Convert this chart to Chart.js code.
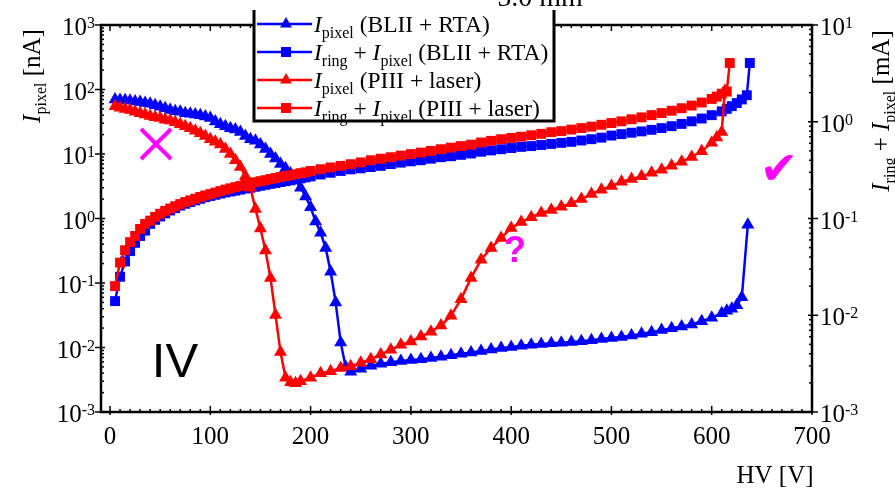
<!DOCTYPE html>
<html>
<head>
<meta charset="utf-8">
<script src="https://cdn.jsdelivr.net/npm/chart.js@4.4.0/dist/chart.umd.min.js"></script>
<style>
  body { margin: 0; background: #fff; }
  #wrap { width: 895px; height: 491px; position: relative; }
</style>
</head>
<body>
<div id="wrap"><canvas id="ivChart" width="895" height="491"></canvas></div>
<script>
// HV [V] and I_pixel [nA] for BLII + RTA
const hvPixBlii = [5, 10, 15, 20, 25, 30, 35, 40, 45, 50, 55, 60, 65, 70, 75, 80, 85, 90, 95, 100,
    105, 110, 115, 120, 125, 130, 135, 140, 145, 150, 155, 160, 165, 170, 175, 180, 185, 190, 195, 200,
    205, 210, 215, 220, 225, 230, 235, 240, 250, 260, 270, 280, 290, 300, 310, 320, 330, 340, 350, 360,
    370, 380, 390, 400, 410, 420, 430, 440, 450, 460, 470, 480, 490, 500, 510, 520, 530, 540, 550, 560,
    570, 580, 590, 600, 610, 615, 620, 625, 630, 636];
const iPixBlii = [70, 69, 68, 67, 65, 64, 62, 60, 57, 54, 51, 48, 46, 45, 43, 42, 41, 40, 38, 36,
    32, 29, 27, 25, 24, 22, 19, 17, 16, 14, 12, 10, 8.5, 7, 6, 5, 4, 3, 2.2, 1.5,
    0.9, 0.6, 0.35, 0.15, 0.05, 0.012, 0.005, 0.0042, 0.0047, 0.0052, 0.0056, 0.0059, 0.0062, 0.0064, 0.0066, 0.0069, 0.0072, 0.0076, 0.008, 0.0084,
    0.0088, 0.0093, 0.0098, 0.0102, 0.0106, 0.011, 0.0113, 0.0116, 0.0119, 0.0122, 0.0125, 0.013, 0.0135, 0.014, 0.0146, 0.0154, 0.0163, 0.0173, 0.0186, 0.0199,
    0.0212, 0.0228, 0.0255, 0.029, 0.034, 0.037, 0.04, 0.045, 0.06, 0.8];

// HV [V] and I_ring + I_pixel [mA] for BLII + RTA
const hvTotBlii = [5, 10, 15, 20, 25, 30, 35, 40, 45, 50, 55, 60, 65, 70, 75, 80, 85, 90, 95, 100,
    105, 110, 115, 120, 125, 130, 135, 140, 145, 150, 155, 160, 165, 170, 175, 180, 185, 190, 195, 200,
    210, 220, 230, 240, 250, 260, 270, 280, 290, 300, 310, 320, 330, 340, 350, 360, 370, 380, 390, 400,
    410, 420, 430, 440, 450, 460, 470, 480, 490, 500, 510, 520, 530, 540, 550, 560, 570, 580, 590, 600,
    610, 615, 620, 625, 630, 635, 638];
const iTotBlii = [0.014, 0.025, 0.036, 0.046, 0.056, 0.066, 0.075, 0.088, 0.097, 0.105, 0.113, 0.121, 0.128, 0.136, 0.142, 0.148, 0.154, 0.16, 0.166, 0.171,
    0.176, 0.181, 0.186, 0.19, 0.194, 0.199, 0.204, 0.208, 0.213, 0.218, 0.223, 0.228, 0.233, 0.238, 0.243, 0.248, 0.254, 0.26, 0.266, 0.272,
    0.285, 0.297, 0.31, 0.322, 0.33, 0.34, 0.35, 0.365, 0.378, 0.39, 0.4, 0.415, 0.43, 0.44, 0.455, 0.47, 0.49, 0.505, 0.52, 0.535,
    0.55, 0.56, 0.575, 0.59, 0.605, 0.62, 0.64, 0.66, 0.685, 0.72, 0.745, 0.77, 0.795, 0.825, 0.86, 0.9, 0.95, 1.01, 1.08, 1.17,
    1.28, 1.36, 1.45, 1.56, 1.7, 1.88, 4.05];

// HV [V] and I_pixel [nA] for PIII + laser
const hvPixPiii = [5, 10, 15, 20, 25, 30, 35, 40, 45, 50, 55, 60, 65, 70, 75, 80, 85, 90, 95, 100,
    105, 110, 115, 120, 125, 130, 135, 140, 145, 150, 155, 160, 165, 170, 175, 180, 185, 190, 200, 210,
    220, 230, 240, 250, 260, 270, 280, 290, 300, 310, 320, 330, 340, 350, 360, 370, 380, 390, 400, 410,
    420, 430, 440, 450, 460, 470, 480, 490, 500, 510, 520, 530, 540, 550, 560, 570, 580, 590, 600, 605,
    610, 613];
const iPixPiii = [55, 52, 50, 48, 45, 43, 41, 39, 37, 36, 34, 33, 31, 29, 27, 25, 23, 21, 19, 17,
    15.5, 14, 12, 10, 8, 6.3, 4.5, 3, 1.4, 0.7, 0.32, 0.12, 0.032, 0.0085, 0.0034, 0.0029, 0.0028, 0.003, 0.0034, 0.004,
    0.0043, 0.0048, 0.0051, 0.0058, 0.0066, 0.0078, 0.0092, 0.011, 0.0124, 0.0148, 0.0176, 0.022, 0.031, 0.056, 0.12, 0.23, 0.35, 0.5, 0.71, 0.88,
    1.05, 1.22, 1.36, 1.52, 1.73, 2.0, 2.4, 2.8, 3.2, 3.7, 4.1, 4.5, 5.1, 5.7, 6.6, 7.6, 9, 11, 15, 18,
    22, 95];

// HV [V] and I_ring + I_pixel [mA] for PIII + laser
const hvTotPiii = [5, 10, 15, 20, 25, 30, 35, 40, 45, 50, 55, 60, 65, 70, 75, 80, 85, 90, 95, 100,
    105, 110, 115, 120, 125, 130, 135, 140, 145, 150, 155, 160, 165, 170, 175, 180, 185, 190, 195, 200,
    210, 220, 230, 240, 250, 260, 270, 280, 290, 300, 310, 320, 330, 340, 350, 360, 370, 380, 390, 400,
    410, 420, 430, 440, 450, 460, 470, 480, 490, 500, 510, 520, 530, 540, 550, 560, 570, 580, 590, 600,
    605, 610, 615, 618];
const iTotPiii = [0.02, 0.035, 0.047, 0.057, 0.066, 0.078, 0.088, 0.095, 0.104, 0.112, 0.12, 0.127, 0.134, 0.141, 0.148, 0.154, 0.16, 0.167, 0.173, 0.179,
    0.185, 0.192, 0.199, 0.205, 0.211, 0.217, 0.224, 0.23, 0.237, 0.243, 0.249, 0.256, 0.262, 0.268, 0.274, 0.28, 0.287, 0.294, 0.3, 0.31,
    0.323, 0.337, 0.35, 0.364, 0.38, 0.4, 0.415, 0.43, 0.447, 0.463, 0.48, 0.5, 0.52, 0.54, 0.56, 0.58, 0.61, 0.635, 0.66, 0.68,
    0.7, 0.725, 0.75, 0.78, 0.8, 0.83, 0.86, 0.89, 0.93, 0.97, 1.01, 1.06, 1.11, 1.17, 1.23, 1.3, 1.38, 1.47, 1.58, 1.72,
    1.82, 1.95, 2.05, 4.05];

const hvTicks = [0, 100, 200, 300, 400, 500, 600, 700];
const leftExponents = [-3, -2, -1, 0, 1, 2, 3];
const rightExponents = [-3, -2, -1, 0, 1];

const BLUE = '#0000ff';
const RED = '#ff0000';
const MAGENTA = '#ff00ff';
const SERIF = "'Liberation Serif', 'Times New Roman', serif";

function toPoints(xs, ys) {
    return xs.map((x, i) => ({ x: x, y: ys[i] }));
}

function setFont(ctx, kind, size, subSize) {
    if (kind === 'i') ctx.font = 'italic ' + size + 'px ' + SERIF;
    else if (kind === 's') ctx.font = subSize + 'px ' + SERIF;
    else ctx.font = size + 'px ' + SERIF;
}

// parts: [text, kind] with kind 'n' normal, 'i' italic, 's' subscript
function drawRich(ctx, parts, x, y, size, subSize, centered) {
    let total = 0;
    parts.forEach(p => {
        setFont(ctx, p[1], size, subSize);
        total += ctx.measureText(p[0]).width;
    });
    let cx = centered ? x - total / 2 : x;
    ctx.textAlign = 'left';
    ctx.textBaseline = 'alphabetic';
    parts.forEach(p => {
        setFont(ctx, p[1], size, subSize);
        ctx.fillText(p[0], cx, p[1] === 's' ? y + subSize * 0.35 : y);
        cx += ctx.measureText(p[0]).width;
    });
}

function drawPow(ctx, exp, x, y, alignRight) {
    const base = '10';
    const sup = exp < 0 ? '-' + Math.abs(exp) : String(exp);
    ctx.font = '25px ' + SERIF;
    const wBase = ctx.measureText(base).width;
    ctx.font = '16px ' + SERIF;
    const wSup = ctx.measureText(sup).width;
    const start = alignRight ? x - wBase - wSup : x;
    ctx.textAlign = 'left';
    ctx.textBaseline = 'alphabetic';
    ctx.font = '25px ' + SERIF;
    ctx.fillText(base, start, y + 10);
    ctx.font = '16px ' + SERIF;
    ctx.fillText(sup, start + wBase, y + 3);
}

function marker(ctx, style, x, y, color) {
    ctx.fillStyle = color;
    ctx.beginPath();
    if (style === 'triangle') {
        ctx.moveTo(x, y - 7);
        ctx.lineTo(x + 6, y + 3.5);
        ctx.lineTo(x - 6, y + 3.5);
        ctx.closePath();
    } else {
        ctx.rect(x - 5, y - 5, 10, 10);
    }
    ctx.fill();
}

const decorPlugin = {
    id: 'decor',
    afterDraw(chart) {
        const ctx = chart.ctx;
        const a = chart.chartArea;
        const xs = chart.scales.x;
        const yl = chart.scales.yL;
        const yr = chart.scales.yR;
        ctx.save();

        // cut-off title
        ctx.fillStyle = '#000';
        ctx.font = '28px ' + SERIF;
        ctx.textAlign = 'center';
        ctx.textBaseline = 'alphabetic';
        ctx.fillText('5.0 mm', 540, 6);

        // frame
        ctx.strokeStyle = '#000';
        ctx.lineWidth = 2.5;
        ctx.strokeRect(a.left, a.top, a.right - a.left, a.bottom - a.top);

        // x ticks
        ctx.lineWidth = 1.5;
        for (let v = 0; v <= 700; v += 10) {
            const px = xs.getPixelForValue(v);
            const major = v % 100 === 0;
            const len = major ? 6 : 3;
            ctx.beginPath();
            ctx.moveTo(px, a.bottom + (major ? 3 : 0));
            ctx.lineTo(px, a.bottom - len);
            ctx.moveTo(px, a.top);
            ctx.lineTo(px, a.top + len);
            ctx.stroke();
        }
        ctx.fillStyle = '#000';
        ctx.font = '25px ' + SERIF;
        ctx.textAlign = 'center';
        hvTicks.forEach(v => ctx.fillText(String(v), xs.getPixelForValue(v), 444));

        // log ticks on both y axes
        [[yl, leftExponents, a.left, -1], [yr, rightExponents, a.right, 1]].forEach(([sc, exps, edge, dir]) => {
            exps.forEach(k => {
                const py = sc.getPixelForValue(Math.pow(10, k));
                ctx.beginPath();
                ctx.moveTo(edge + dir * 6, py);
                ctx.lineTo(edge - dir * 4, py);
                ctx.stroke();
                if (k === exps[exps.length - 1]) return;
                for (let m = 2; m <= 9; m++) {
                    const pm = sc.getPixelForValue(m * Math.pow(10, k));
                    ctx.beginPath();
                    ctx.moveTo(edge, pm);
                    ctx.lineTo(edge - dir * 3, pm);
                    ctx.stroke();
                }
            });
        });
        leftExponents.forEach(k => drawPow(ctx, k, 95, yl.getPixelForValue(Math.pow(10, k)), true));
        rightExponents.forEach(k => drawPow(ctx, k, 820, yr.getPixelForValue(Math.pow(10, k)), false));

        // axis titles
        ctx.fillStyle = '#000';
        ctx.save();
        ctx.translate(40, 76);
        ctx.rotate(-Math.PI / 2);
        drawRich(ctx, [['I', 'i'], ['pixel', 's'], [' [nA]', 'n']], 0, 0, 25, 16, true);
        ctx.restore();
        ctx.save();
        ctx.translate(889, 111);
        ctx.rotate(-Math.PI / 2);
        drawRich(ctx, [['I', 'i'], ['ring', 's'], [' + ', 'n'], ['I', 'i'], ['pixel', 's'], [' [mA]', 'n']], 0, 0, 25, 16, true);
        ctx.restore();
        ctx.font = '25px ' + SERIF;
        ctx.textAlign = 'center';
        ctx.fillText('HV [V]', 775, 483);

        // legend box
        ctx.fillStyle = '#fff';
        ctx.fillRect(253, 10, 302, 112);
        ctx.lineWidth = 3;
        ctx.strokeStyle = '#000';
        ctx.beginPath();
        ctx.moveTo(254, 10);
        ctx.lineTo(254, 121);
        ctx.lineTo(554, 121);
        ctx.lineTo(554, 10);
        ctx.stroke();
        const rows = [
            [BLUE, 'triangle', [['I', 'i'], ['pixel', 's'], [' (BLII + RTA)', 'n']]],
            [BLUE, 'rect', [['I', 'i'], ['ring', 's'], [' + ', 'n'], ['I', 'i'], ['pixel', 's'], [' (BLII + RTA)', 'n']]],
            [RED, 'triangle', [['I', 'i'], ['pixel', 's'], [' (PIII + laser)', 'n']]],
            [RED, 'rect', [['I', 'i'], ['ring', 's'], [' + ', 'n'], ['I', 'i'], ['pixel', 's'], [' (PIII + laser)', 'n']]]
        ];
        rows.forEach((r, i) => {
            const ry = 24 + i * 28;
            ctx.strokeStyle = r[0];
            ctx.lineWidth = 2.5;
            ctx.beginPath();
            ctx.moveTo(257, ry);
            ctx.lineTo(312, ry);
            ctx.stroke();
            marker(ctx, r[1], 286, ry, r[0]);
            ctx.fillStyle = '#000';
            drawRich(ctx, r[2], 314, ry + 8, 23.5, 16, false);
        });

        // annotations
        ctx.strokeStyle = MAGENTA;
        ctx.lineWidth = 4;
        ctx.beginPath();
        ctx.moveTo(141, 129);
        ctx.lineTo(171, 159);
        ctx.moveTo(171, 129);
        ctx.lineTo(141, 159);
        ctx.stroke();
        ctx.fillStyle = MAGENTA;
        ctx.font = "bold 36px 'Liberation Sans', Arial, sans-serif";
        ctx.textAlign = 'center';
        ctx.fillText('?', 515, 262);
        ctx.font = "46px 'DejaVu Sans', sans-serif";
        ctx.fillText('\u2714', 779, 184);
        ctx.fillStyle = '#000';
        ctx.font = "49px 'Liberation Sans', Arial, sans-serif";
        ctx.fillText('IV', 175, 377);

        ctx.restore();
    }
};

function fixWidth(w) {
    return scale => { scale.width = w; };
}

new Chart(document.getElementById('ivChart').getContext('2d'), {
    type: 'line',
    data: {
        datasets: [
            {
                label: 'I_pixel (PIII + laser)',
                data: toPoints(hvPixPiii, iPixPiii),
                yAxisID: 'yL',
                borderColor: RED,
                backgroundColor: RED,
                pointStyle: 'triangle',
                pointRadius: 7.5,
                order: 0
            },
            {
                label: 'I_ring + I_pixel (PIII + laser)',
                data: toPoints(hvTotPiii, iTotPiii),
                yAxisID: 'yR',
                borderColor: RED,
                backgroundColor: RED,
                pointStyle: 'rect',
                pointRadius: 7,
                order: 0
            },
            {
                label: 'I_pixel (BLII + RTA)',
                data: toPoints(hvPixBlii, iPixBlii),
                yAxisID: 'yL',
                borderColor: BLUE,
                backgroundColor: BLUE,
                pointStyle: 'triangle',
                pointRadius: 7.5,
                order: 1
            },
            {
                label: 'I_ring + I_pixel (BLII + RTA)',
                data: toPoints(hvTotBlii, iTotBlii),
                yAxisID: 'yR',
                borderColor: BLUE,
                backgroundColor: BLUE,
                pointStyle: 'rect',
                pointRadius: 7,
                order: 1
            }
        ]
    },
    options: {
        responsive: false,
        animation: false,
        layout: { padding: { top: 25, left: 0, right: 0, bottom: 0 } },
        elements: {
            line: { borderWidth: 2.5, tension: 0 },
            point: { borderWidth: 0, hoverRadius: 7 }
        },
        plugins: {
            legend: { display: false },
            tooltip: { enabled: false }
        },
        scales: {
            x: {
                type: 'linear',
                min: -9,
                max: 700,
                grid: { display: false },
                border: { display: false },
                ticks: { display: false },
                afterFit: scale => { scale.height = 79; }
            },
            yL: {
                type: 'logarithmic',
                position: 'left',
                min: 1e-3,
                max: 1e3,
                grid: { display: false },
                border: { display: false },
                ticks: { display: false },
                afterFit: fixWidth(101)
            },
            yR: {
                type: 'logarithmic',
                position: 'right',
                min: 1e-3,
                max: 10,
                grid: { display: false },
                border: { display: false },
                ticks: { display: false },
                afterFit: fixWidth(83)
            }
        }
    },
    plugins: [decorPlugin]
});
</script>
</body>
</html>
